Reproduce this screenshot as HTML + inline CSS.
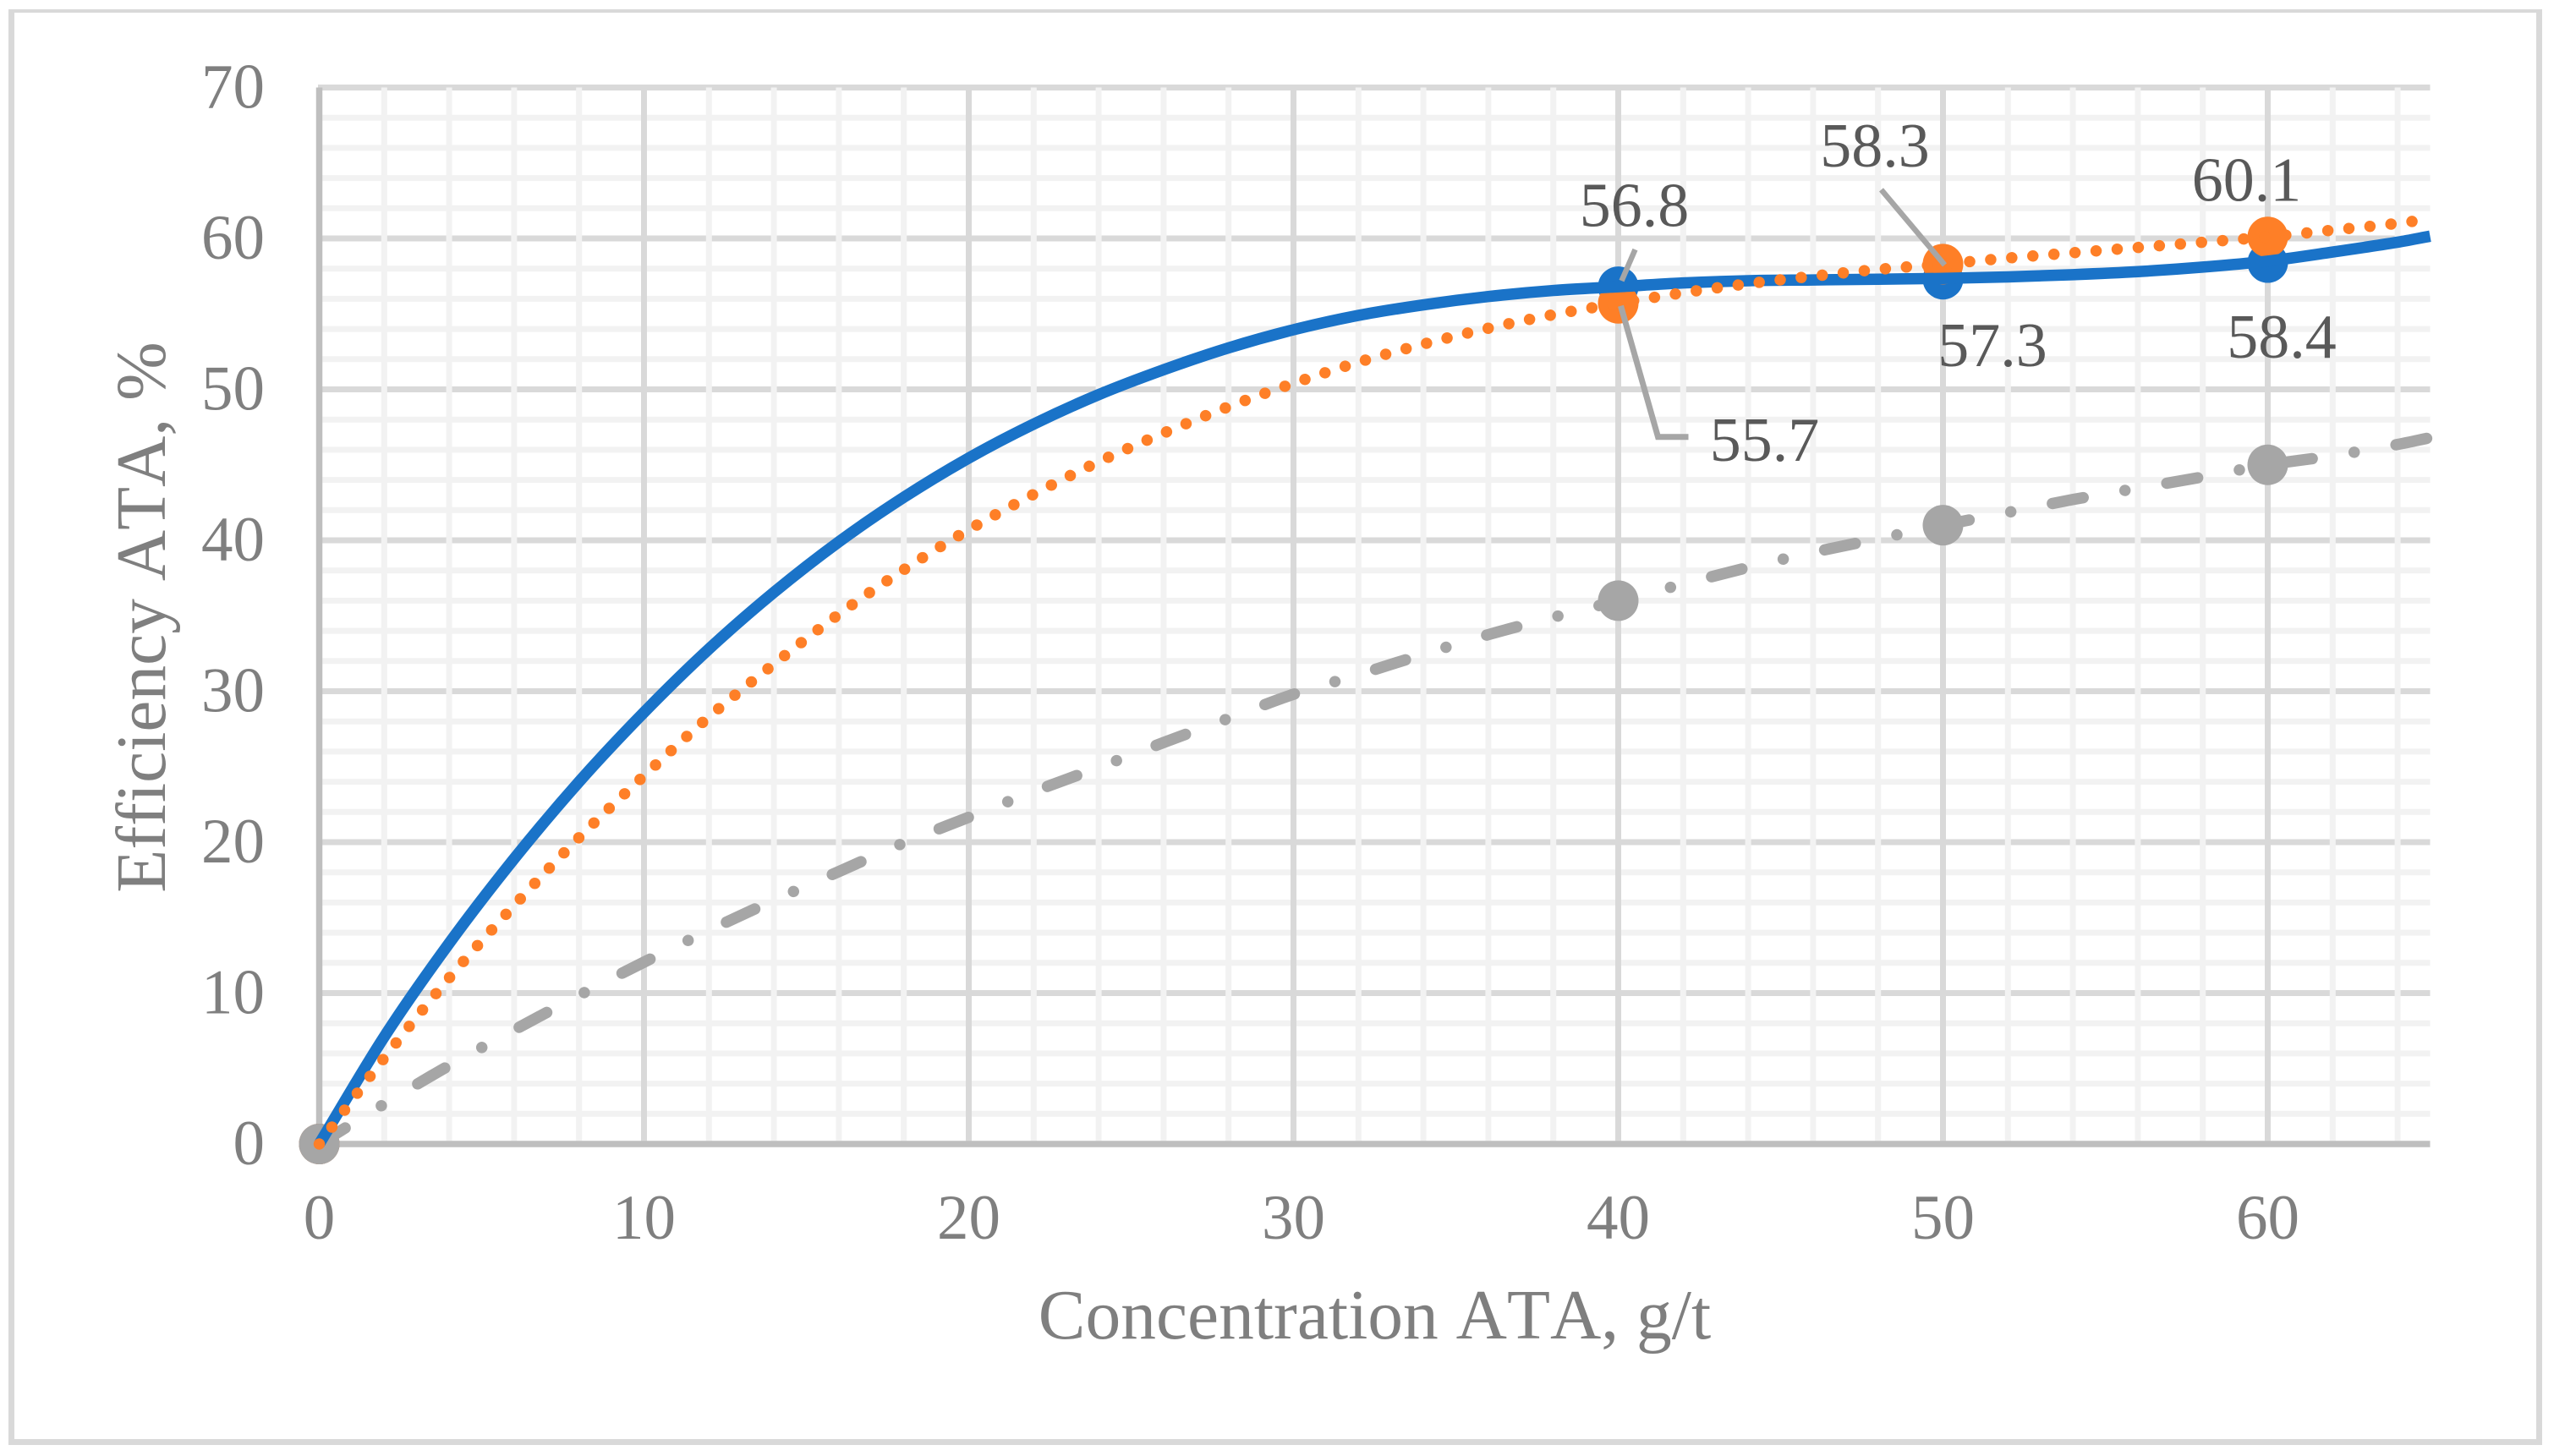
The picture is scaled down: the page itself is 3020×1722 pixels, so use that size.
<!DOCTYPE html>
<html lang="en">
<head>
<meta charset="utf-8">
<title>Efficiency vs Concentration ATA</title>
<style>
html,body{margin:0;padding:0;background:#fff;width:3020px;height:1722px;overflow:hidden}
svg{display:block}
text{font-family:"Liberation Serif",serif;font-kerning:none}
.tick{font-size:75px;fill:#7f7f7f}
.title{font-size:83.5px;fill:#7f7f7f}
.dl{font-size:74px;fill:#595959;text-anchor:middle}
</style>
</head>
<body>
<svg id="chart" xmlns="http://www.w3.org/2000/svg" width="3020" height="1722" viewBox="0 0 3020 1722">
  <rect x="0" y="0" width="3020" height="1722" fill="#ffffff"/>
  <g fill="#d9d9d9">
    <rect x="10" y="11" width="2996" height="4"/>
    <rect x="10" y="11" width="7" height="1698"/>
    <rect x="2999" y="11" width="7" height="1698"/>
    <rect x="10" y="1702" width="2996" height="7"/>
  </g>
  <g id="grid"></g>
  <g id="axes"></g>
  <g id="markers"></g>
  <g id="lines"></g>
  <g id="leaders"></g>
  <g id="labels"></g>
  <g id="ticks"></g>
  <text class="title" x="1625.5" y="1583" text-anchor="middle">Concentration ATA, g/t</text>
  <text class="title" x="0" y="0" text-anchor="middle" transform="translate(195 730) rotate(-90)">Efficiency ATA, %</text>
</svg>
<script>
// Axis tick labels
var xTicks = [0, 10, 20, 30, 40, 50, 60];
var yTicks = [0, 10, 20, 30, 40, 50, 60, 70];
var xMinorTicks = [2, 4, 6, 8, 12, 14, 16, 18, 22, 24, 26, 28, 32, 34, 36, 38, 42, 44, 46, 48, 52, 54, 56, 58, 62, 64];
var yMinorTicks = [2, 4, 6, 8, 12, 14, 16, 18, 22, 24, 26, 28, 32, 34, 36, 38, 42, 44, 46, 48, 52, 54, 56, 58, 62, 64, 66, 68];
var xMax = 65;
var yMax = 70;

// Measured points
var pointX = [0, 40, 50, 60];
var blueValues = [0, 56.8, 57.3, 58.4];
var orangeValues = [0, 55.7, 58.3, 60.1];
var grayValues = [0, 36, 41, 45];

// Trend curves
var trendX = [0, 2, 4, 6, 8, 10, 12, 14, 16, 18, 20, 22, 24, 26, 28, 30, 32, 34, 36, 38, 40, 42, 44, 46, 48, 50, 52, 54, 56, 58, 60, 62, 64, 65];
var blueTrend = [0, 7.1, 13.3, 18.9, 24.0, 28.6, 32.8, 36.55, 39.9, 42.85, 45.45, 47.7, 49.65, 51.3, 52.75, 53.95, 54.9, 55.6, 56.15, 56.55, 56.8, 57.05, 57.2, 57.25, 57.3, 57.35, 57.45, 57.6, 57.8, 58.1, 58.5, 59.1, 59.75, 60.15];
var orangeTrend = [0, 5.7, 11, 15.8, 20.3, 24.4, 28.3, 31.8, 35.1, 38.05, 40.7, 43.05, 45.2, 47.1, 48.85, 50.4, 51.8, 53.0, 54.05, 54.95, 55.7, 56.4, 57.0, 57.5, 57.95, 58.3, 58.7, 59.05, 59.4, 59.75, 60.1, 60.55, 61.0, 61.3];
var grayTrend = [0, 2.65, 5.2, 7.55, 9.85, 12.05, 14.15, 16.15, 18.05, 19.95, 21.65, 23.35, 24.95, 26.6, 28.2, 29.8, 31.1, 32.45, 33.75, 34.9, 36, 37.1, 38.2, 39.2, 40.1, 41, 41.85, 42.7, 43.45, 44.2, 45, 45.6, 46.35, 46.8];

var NS = 'http://www.w3.org/2000/svg';
var X0 = 377.5, X1 = 2873.5, Y0 = 1353, Y1 = 103.5;
function sx(v) { return X0 + (X1 - X0) * v / xMax; }
function sy(v) { return Y0 - (Y0 - Y1) * v / yMax; }
function make(tag, parentId, attrs) {
  var el = document.createElementNS(NS, tag);
  for (var k in attrs) { el.setAttribute(k, attrs[k]); }
  document.getElementById(parentId).appendChild(el);
  return el;
}
function smoothPath(xs, ys) {
  var n = xs.length, m = [], i;
  for (i = 0; i < n; i++) {
    var a = Math.max(0, i - 1), b = Math.min(n - 1, i + 1);
    m.push((sy(ys[b]) - sy(ys[a])) / (sx(xs[b]) - sx(xs[a])));
  }
  var d = 'M' + sx(xs[0]).toFixed(2) + ' ' + sy(ys[0]).toFixed(2);
  for (i = 0; i < n - 1; i++) {
    var x1 = sx(xs[i]), x2 = sx(xs[i + 1]), y1 = sy(ys[i]), y2 = sy(ys[i + 1]), h = (x2 - x1) / 3;
    d += 'C' + (x1 + h).toFixed(2) + ' ' + (y1 + m[i] * h).toFixed(2) + ' ' + (x2 - h).toFixed(2) + ' ' + (y2 - m[i + 1] * h).toFixed(2) + ' ' + x2.toFixed(2) + ' ' + y2.toFixed(2);
  }
  return d;
}
var el, i;

// Horizontal gridlines
for (i = 0; i < yTicks.length; i++) {
  if (yTicks[i] === 0) continue;
  el = make('line', 'grid', {x1: 376, x2: X1, y1: sy(yTicks[i]), y2: sy(yTicks[i]), stroke: '#d9d9d9', 'stroke-width': 7});
  
  
}
for (i = 0; i < yMinorTicks.length; i++) {
  el = make('line', 'grid', {x1: 376, x2: X1, y1: sy(yMinorTicks[i]), y2: sy(yMinorTicks[i]), stroke: '#f2f2f2', 'stroke-width': 7});
  
  
}
// Vertical gridlines
for (i = 0; i < xMinorTicks.length; i++) {
  el = make('line', 'grid', {x1: sx(xMinorTicks[i]), x2: sx(xMinorTicks[i]), y1: Y1, y2: Y0, stroke: '#f2f2f2', 'stroke-width': 7});
  
  
}
for (i = 0; i < xTicks.length; i++) {
  if (xTicks[i] === 0) continue;
  el = make('line', 'grid', {x1: sx(xTicks[i]), x2: sx(xTicks[i]), y1: Y1, y2: Y0, stroke: '#d9d9d9', 'stroke-width': 7});
  
  
}
// Axis lines
el = make('line', 'axes', {x1: X0, x2: X0, y1: Y1, y2: Y0 + 4, stroke: '#bfbfbf', 'stroke-width': 7.5});


el = make('line', 'axes', {x1: X0 - 4, x2: X1, y1: Y0, y2: Y0, stroke: '#bfbfbf', 'stroke-width': 7.5});



// Tick labels
for (i = 0; i < xTicks.length; i++) {
  el = make('text', 'ticks', {'class': 'tick', x: sx(xTicks[i]), y: 1465, 'text-anchor': 'middle'});
  
  
  el.textContent = xTicks[i];
}
for (i = 0; i < yTicks.length; i++) {
  el = make('text', 'ticks', {'class': 'tick', x: 313, y: sy(yTicks[i]) + 24, 'text-anchor': 'end'});
  
  
  el.textContent = yTicks[i];
}

// Markers
for (i = 0; i < pointX.length; i++) {
  el = make('circle', 'markers', {cx: sx(pointX[i]), cy: sy(blueValues[i]), r: 24, fill: '#1a73c8'});
  
  
}
for (i = 0; i < pointX.length; i++) {
  el = make('circle', 'markers', {cx: sx(pointX[i]), cy: sy(orangeValues[i]), r: 24, fill: '#fe7f27'});
  
  
}
for (i = 0; i < pointX.length; i++) {
  el = make('circle', 'markers', {cx: sx(pointX[i]), cy: sy(grayValues[i]), r: 24, fill: '#a6a6a6'});
  
  
}

// Trend lines
el = make('path', 'lines', {d: smoothPath(trendX, grayTrend), fill: 'none', stroke: '#a6a6a6', 'stroke-width': 13.5, 'stroke-linecap': 'round', 'stroke-dasharray': '37 50.2 0.01 50.2', 'stroke-dashoffset': 1});


el = make('path', 'lines', {d: smoothPath(trendX, blueTrend), fill: 'none', stroke: '#1a73c8', 'stroke-width': 13.5});


el = make('path', 'lines', {d: smoothPath(trendX, orangeTrend), fill: 'none', stroke: '#fe7f27', 'stroke-width': 13.5, 'stroke-linecap': 'round', 'stroke-dasharray': '0.01 25'});



// Leader lines, anchored on their points
function px(idx) { return sx(pointX[idx]); }
el = make('polyline', 'leaders', {points: (px(1) + 20) + ',' + (sy(blueValues[1]) - 44) + ' ' + (px(1) + 4) + ',' + (sy(blueValues[1]) - 7), fill: 'none', stroke: '#a6a6a6', 'stroke-width': 6.5});


el = make('polyline', 'leaders', {points: (px(1) + 3) + ',' + (sy(orangeValues[1]) + 3) + ' ' + (px(1) + 47) + ',' + (sy(orangeValues[1]) + 158) + ' ' + (px(1) + 83) + ',' + (sy(orangeValues[1]) + 158), fill: 'none', stroke: '#a6a6a6', 'stroke-width': 7});


el = make('polyline', 'leaders', {points: (px(2) - 73) + ',' + (sy(orangeValues[2]) - 88) + ' ' + (px(2) + 2) + ',' + (sy(orangeValues[2]) + 1), fill: 'none', stroke: '#a6a6a6', 'stroke-width': 6.5});



// Data labels, printed from the value arrays
function dataLabel(idx, values, dx, dy) {
  var t = make('text', 'labels', {'class': 'dl', x: px(idx) + dx, y: sy(values[idx]) + dy});
  t.textContent = values[idx].toFixed(1);
  return t;
}
el = dataLabel(1, blueValues, 19, -71.5);


el = dataLabel(2, blueValues, 58.5, 103);


el = dataLabel(3, blueValues, 16.5, 112.5);


el = dataLabel(1, orangeValues, 173, 186.3);


el = dataLabel(2, orangeValues, -80.5, -115.3);


el = dataLabel(3, orangeValues, -25, -42.7);


</script>
</body>
</html>
